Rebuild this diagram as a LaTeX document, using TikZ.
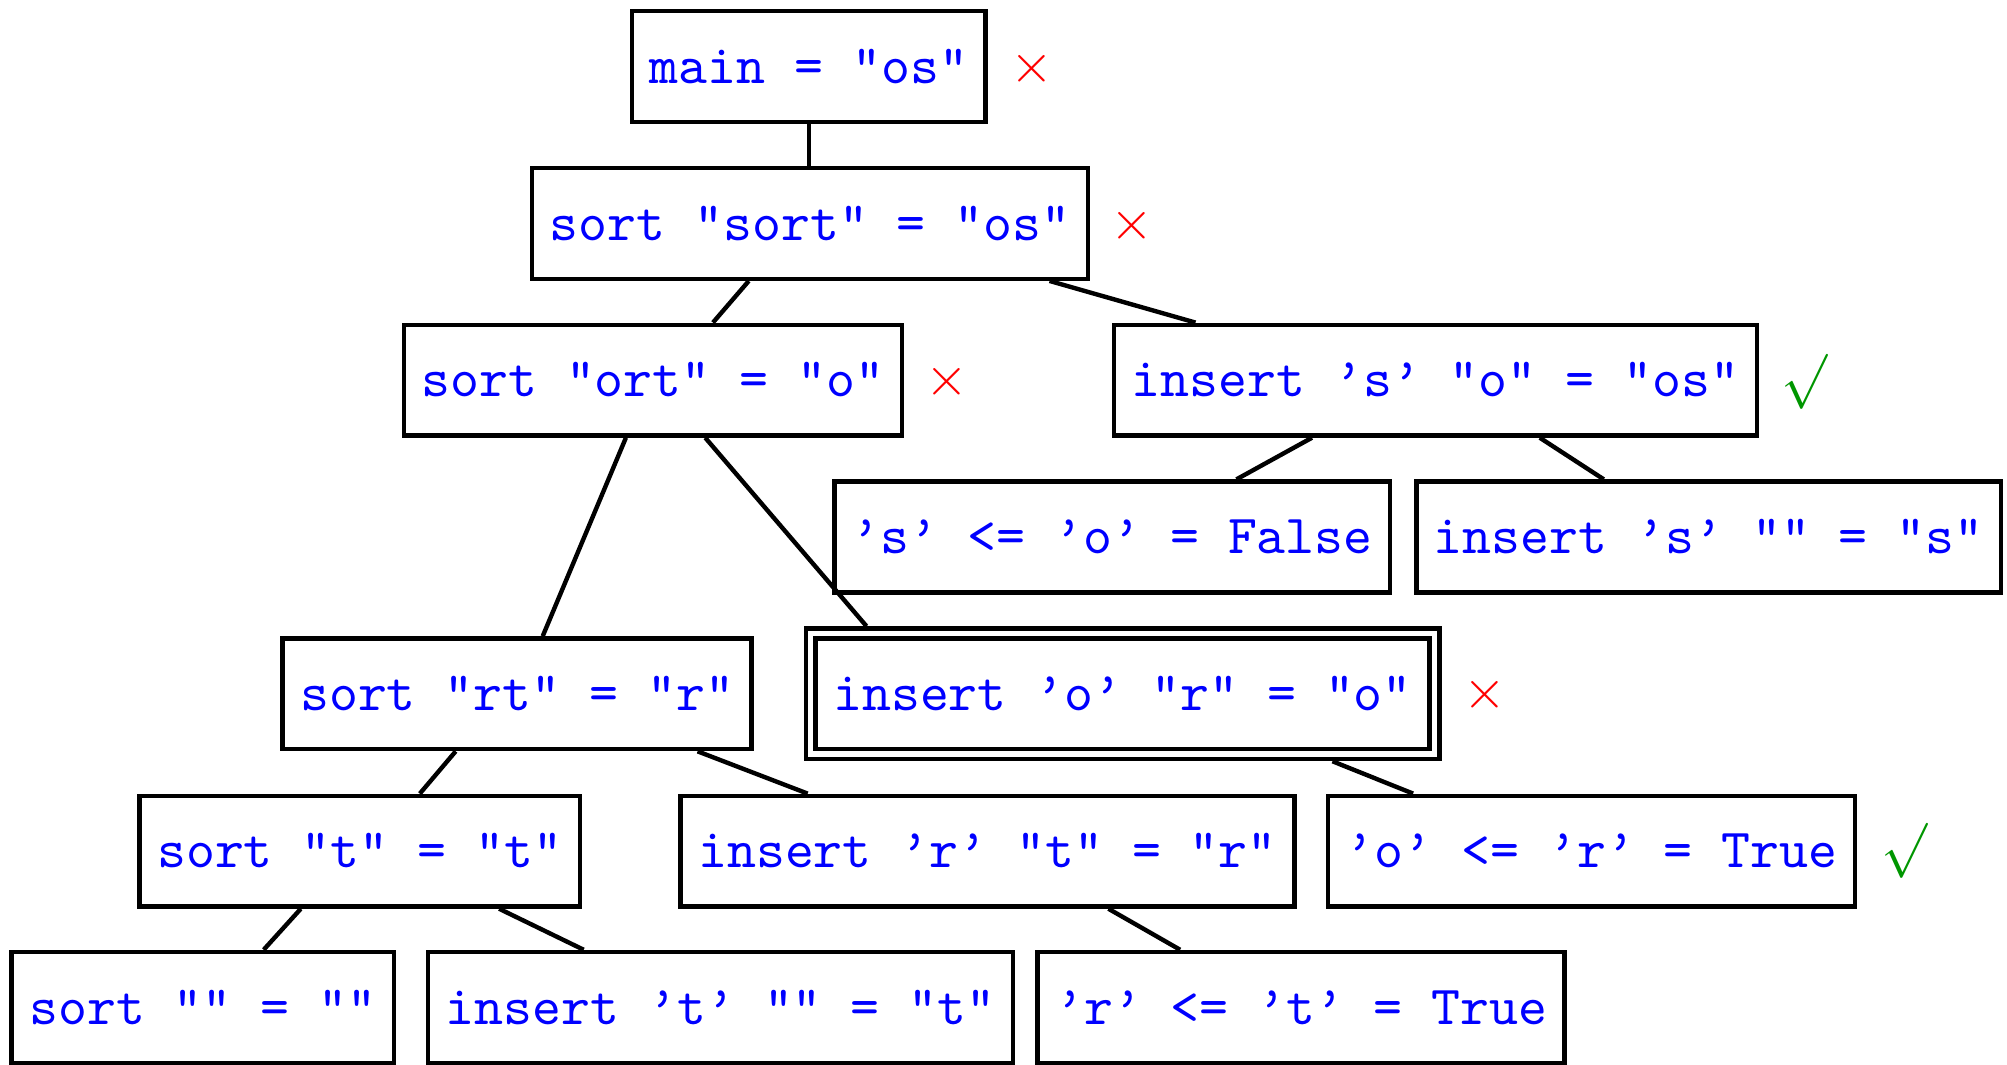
\documentclass[tikz,border=0pt]{standalone}
\usetikzlibrary{calc,fit}
\definecolor{okgreen}{RGB}{0,150,0}
\begin{document}
\begin{tikzpicture}[x=0.2323pt,y=-0.2323pt,
  box/.style={draw, line width=0.8pt, inner xsep=3.2pt, minimum height=20.1pt,
    text height=6.1pt, text depth=0pt, font=\ttfamily, text=blue},
  edge/.style={line width=0.8pt},
  xmark/.style={text=red, inner sep=0pt},
  okmark/.style={text=okgreen, inner sep=0pt}]
\useasboundingbox (0,0) rectangle (1568,831.3);
% row 1
\node[box] (main) at (632,52) {main = "os"};
\node[xmark] (xa) at (806,54) {$\times$};
% row 2
\node[box] (ss) at (633,174.5) {sort "sort" = "os"};
\node[xmark] (xb) at (884,176) {$\times$};
% row 3
\node[box] (so) at (510,297) {sort "ort" = "o"};
\node[xmark] (xc) at (740,298) {$\times$};
\node[box] (is) at (1121.5,297) {insert ’s’ "o" = "os"};
\node[okmark] (ca) at (1410,298) {$\surd$};
% row 4
\node[box] (so2) at (869,419.5) {’s’ <= ’o’ = False};
\node[box] (ise) at (1335,419.5) {insert ’s’ "" = "s"};
% row 5
\node[box] (srt) at (404,542) {sort "rt" = "r"};
\node[box] (ior) at (877,542) {insert ’o’ "r" = "o"};
\node[draw, line width=0.8pt, fit=(ior), inner sep=1.4pt] (iorO) {};
\node[xmark] (xd) at (1160,543) {$\times$};
% row 6
\node[box] (st) at (281,665) {sort "t" = "t"};
\node[box] (irt) at (771.5,665) {insert ’r’ "t" = "r"};
\node[box] (or) at (1243.5,665) {’o’ <= ’r’ = True};
\node[okmark] (cb) at (1488,665) {$\surd$};
% row 7
\node[box] (se) at (158.5,787) {sort "" = ""};
\node[box] (ite) at (563,787) {insert ’t’ "" = "t"};
\node[box] (rt) at (1016.5,787) {’r’ <= ’t’ = True};
% edges
\draw[edge] (main.south) -- (main.south |- ss.north);
\draw[edge] ($(ss.south)+(-48,0)$) -- ($(so.north)+(47,0)$);
\draw[edge] ($(ss.south)+(187,0)$) -- ($(is.north)+(-187.5,0)$);
\draw[edge] ($(so.south)+(-21,0)$) -- ($(srt.north)+(20,0)$);
\draw[edge] ($(so.south)+(41,0)$) -- ($(iorO.north)+(-200,0)$);
\draw[edge] ($(is.south)+(-96.5,0)$) -- ($(so2.north)+(97,0)$);
\draw[edge] ($(is.south)+(81.5,0)$) -- ($(ise.north)+(-82,0)$);
\draw[edge] ($(srt.south)+(-48,0)$) -- ($(st.north)+(47,0)$);
\draw[edge] ($(srt.south)+(141,0)$) -- ($(irt.north)+(-140.5,0)$);
\draw[edge] ($(iorO.south)+(164,0)$) -- ($(or.north)+(-139.5,0)$);
\draw[edge] ($(st.south)+(-46,0)$) -- ($(se.north)+(47.5,0)$);
\draw[edge] ($(st.south)+(109,0)$) -- ($(ite.north)+(-107,0)$);
\draw[edge] ($(irt.south)+(94.5,0)$) -- ($(rt.north)+(-94.5,0)$);
\end{tikzpicture}
\end{document}
